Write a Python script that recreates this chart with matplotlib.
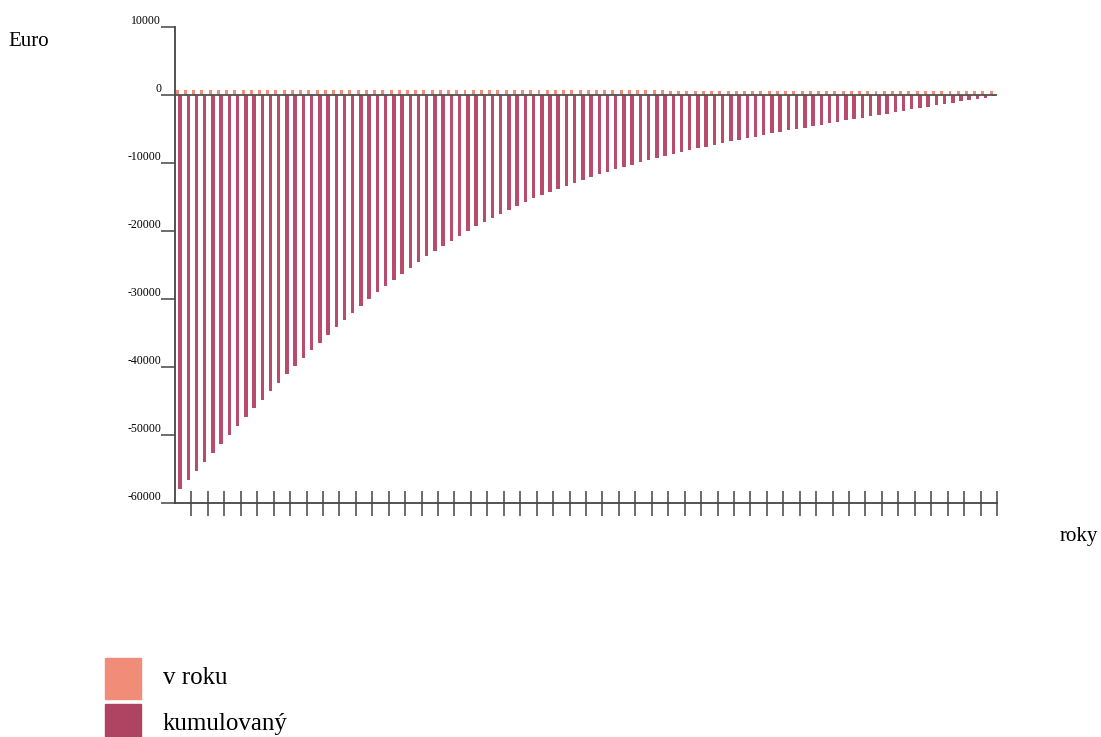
import matplotlib
matplotlib.use("Agg")
import matplotlib.pyplot as plt
from matplotlib.patches import Rectangle

# values (Euro per year)
years = list(range(1, 101))
v_roku = [700] * 60 + [650] * 25 + [600] * 15
kumulovany = [-58000, -56660, -55320, -53980, -52650, -51320, -50000, -48690, -47390, -46100,
              -44830, -43570, -42330, -41100, -39900, -38710, -37540, -36400, -35280, -34180,
              -33100, -32050, -31020, -30020, -29040, -28090, -27160, -26260, -25390, -24540,
              -23720, -22920, -22150, -21400, -20680, -19980, -19310, -18660, -18030, -17430,
              -16840, -16280, -15740, -15220, -14710, -14230, -13760, -13310, -12880, -12460,
              -12050, -11660, -11290, -10920, -10570, -10230, -9900, -9580, -9280, -8970,
              -8680, -8400, -8120, -7850, -7590, -7330, -7080, -6830, -6590, -6350,
              -6120, -5890, -5660, -5440, -5220, -5000, -4790, -4570, -4360, -4150,
              -3950, -3740, -3540, -3330, -3130, -2930, -2730, -2530, -2330, -2130,
              -1930, -1740, -1540, -1340, -1150, -950, -760, -560, -370, -170]
y_ticks = [10000, 0, -10000, -20000, -30000, -40000, -50000, -60000]
series_names = ['v roku', 'kumulovaný']
colors = ['#F08C78', '#AE4462']

plt.rcParams['font.family'] = ['Liberation Serif', 'DejaVu Serif']

fig = plt.figure(figsize=(11.01, 7.37), dpi=100)
ax = fig.add_axes([175 / 1101, 1 - 503 / 737, 822 / 1101, 476 / 737])

x = list(range(len(years)))
ax.bar([i - 0.22 for i in x], v_roku, width=0.36, color=colors[0])
ax.bar([i + 0.12 for i in x], kumulovany, width=0.42, color='#B84C6C')
ax.axhline(0, color='#555050', lw=1.3, zorder=3)

ax.set_xlim(-0.5, len(years) - 0.5)
ax.set_ylim(-60000, 10000)

# axes look
for s in ['top', 'right']:
    ax.spines[s].set_visible(False)
for s in ['left', 'bottom']:
    ax.spines[s].set_color('#444444')
    ax.spines[s].set_linewidth(1.3)

ax.set_yticks(y_ticks)
ax.set_yticklabels([str(v) for v in y_ticks], fontsize=8.5)
for lab in ax.get_yticklabels():
    lab.set_verticalalignment('bottom')
ax.tick_params(axis='y', direction='out', length=10, width=1.1, color='#444444', pad=0)

ax.set_xticks([i + 1.5 for i in range(0, len(years), 2)])
ax.set_xticklabels([])
ax.tick_params(axis='x', direction='inout', length=18, width=1.1, color='#444444')

fig.text(8 / 1101, 1 - 42 / 737, 'Euro', fontsize=15, va='center', ha='left')
fig.text(1060 / 1101, 1 - 537 / 737, 'roky', fontsize=15, va='center', ha='left')

# legend
for k, (name, c) in enumerate(zip(series_names, colors)):
    top = 658 + k * 46
    fig.add_artist(Rectangle((105 / 1101, 1 - (top + 41) / 737), 36 / 1101, 41 / 737,
                             transform=fig.transFigure, color=c))
    fig.text(163 / 1101, 1 - (top + 20) / 737, name, fontsize=18, va='center', ha='left')

fig.savefig('out.png', dpi=100)
